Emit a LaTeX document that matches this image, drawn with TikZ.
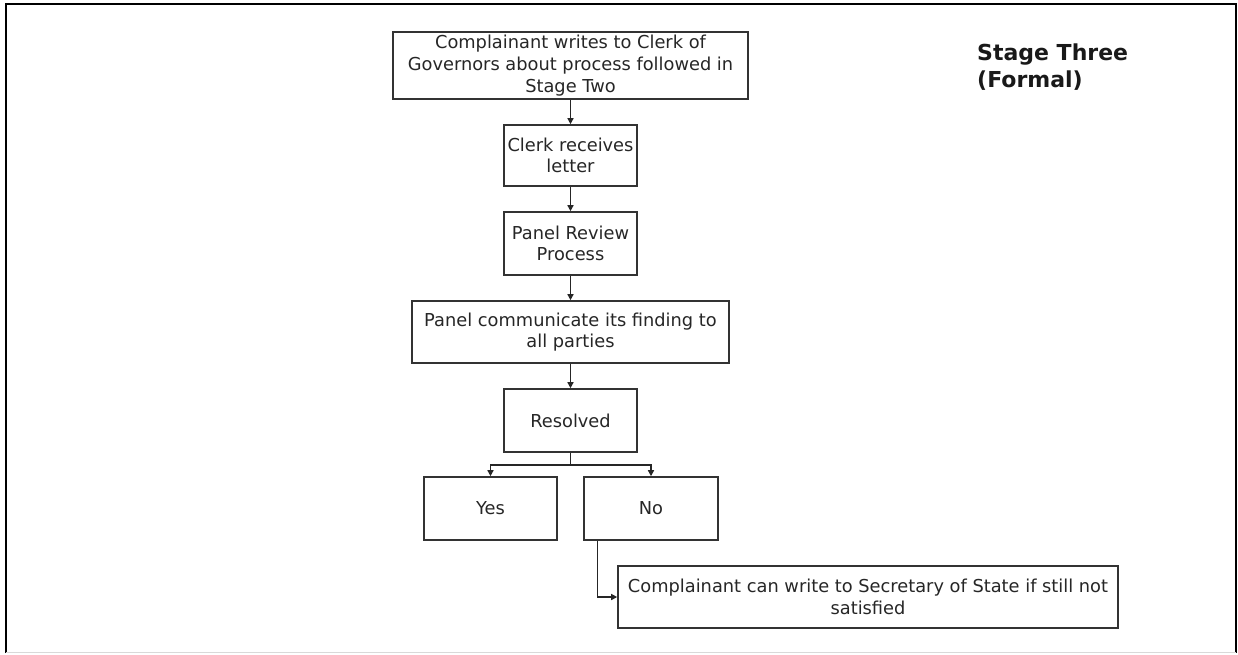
\documentclass[tikz,border=0pt]{standalone}
\usepackage{fontspec}
\setmainfont{DejaVu Sans}
\usetikzlibrary{arrows.meta}
\tikzset{
  box/.style={draw=black!80,line width=1.6pt,align=center,inner sep=2pt,
    text=black!85,font=\fontsize{17.8}{21.6}\selectfont},
  flow/.style={draw=black!85,line width=1.4pt,-{Triangle[length=6pt,width=6pt]}}
}
\begin{document}
\begin{tikzpicture}[x=1pt,y=-1pt]
  \useasboundingbox (0,0) rectangle (1238,654);
  \draw[line width=2.2pt] (6,653) -- (6,4) -- (1236,4) -- (1236,653);
  \draw[black!15,line width=1pt] (6,652) -- (1236,652);

  \node[anchor=north west,inner sep=0pt,align=left,text=black!90,
    font=\fontsize{22}{27}\selectfont\bfseries] (title) at (977,44)
    {Stage Three\\(Formal)};

  \node[box,minimum width=355pt,minimum height=67pt] (write) at (570.5,65.5)
    {Complainant writes to Clerk of\\Governors about process followed in\\Stage Two};
  \node[box,minimum width=133pt,minimum height=61pt] (clerk) at (570.5,155.5)
    {Clerk receives\\letter};
  \node[box,minimum width=133pt,minimum height=63pt] (review) at (570.5,243.5)
    {Panel Review\\Process};
  \node[box,minimum width=317pt,minimum height=62pt] (finding) at (570.5,332)
    {Panel communicate its finding to\\all parties};
  \node[box,minimum width=133pt,minimum height=63pt] (resolved) at (570.5,420.5)
    {Resolved};
  \node[box,minimum width=133pt,minimum height=63pt] (yes) at (490.5,508.5)
    {Yes};
  \node[box,minimum width=134pt,minimum height=63pt] (no) at (651,508.5)
    {No};
  \node[box,minimum width=500pt,minimum height=62pt] (secstate) at (868,597)
    {Complainant can write to Secretary of State if still not\\satisfied};

  \coordinate (split) at (570.5,465);

  \draw[flow] (write) -- (clerk);
  \draw[flow] (clerk) -- (review);
  \draw[flow] (review) -- (finding);
  \draw[flow] (finding) -- (resolved);
  \draw[flow] (resolved.south) -- (split) -| (yes.north);
  \draw[flow] (split) -| (no.north);
  \draw[flow] ([xshift=14pt]no.south west) |- (secstate.west);
\end{tikzpicture}
\end{document}
